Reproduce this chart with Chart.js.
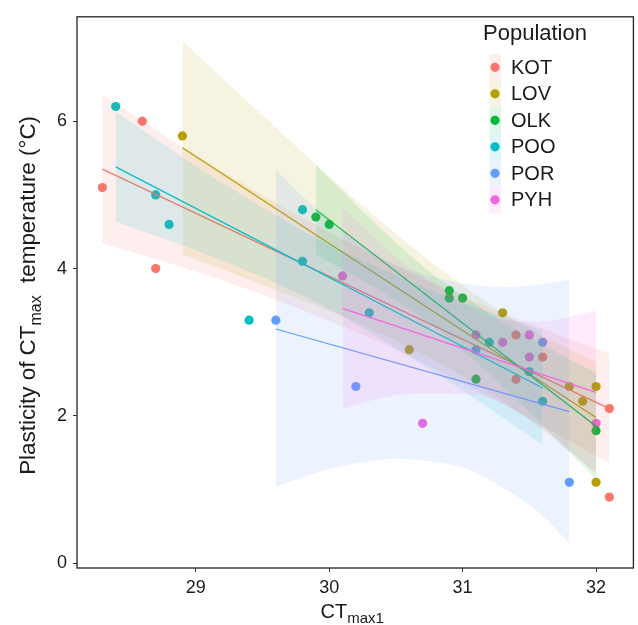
<!DOCTYPE html>
<html lang="en">
<head>
<meta charset="UTF-8">
<title>Plasticity of CTmax</title>
<script src="https://cdn.jsdelivr.net/npm/chart.js"></script>
<style>
  html, body { margin: 0; padding: 0; background: #fff; }
  canvas { display: block; }
</style>
</head>
<body>
<canvas id="chart" width="638" height="625"></canvas>

<script>
// populations and their ggplot colours
const populations = ['KOT', 'LOV', 'OLK', 'POO', 'POR', 'PYH'];
const popColors = ['#F8766D', '#B79F00', '#00BA38', '#00BFC4', '#619CFF', '#F564E3'];

const xTicks = [29, 30, 31, 32];
const yTicks = [0, 2, 4, 6];

// observed points (CTmax1, plasticity)
const kotX = [28.3, 28.6, 28.7, 31.4, 31.4, 31.6, 32.1, 32.1];
const kotY = [5.1, 6.0, 4.0, 3.1, 2.5, 2.8, 2.1, 0.9];
const lovX = [28.9, 30.6, 31.3, 31.8, 31.9, 32.0, 32.0];
const lovY = [5.8, 2.9, 3.4, 2.4, 2.2, 2.4, 1.1];
const olkX = [29.9, 30.0, 30.9, 30.9, 31.0, 31.1, 32.0];
const olkY = [4.7, 4.6, 3.7, 3.6, 3.6, 2.5, 1.8];
const pooX = [28.4, 28.7, 28.8, 29.4, 29.8, 29.8, 30.3, 31.2, 31.5, 31.6];
const pooY = [6.2, 5.0, 4.6, 3.3, 4.8, 4.1, 3.4, 3.0, 2.6, 2.2];
const porX = [29.6, 30.2, 31.1, 31.6, 31.8];
const porY = [3.3, 2.4, 2.9, 3.0, 1.1];
const pyhX = [30.1, 30.7, 31.1, 31.3, 31.5, 31.5, 32.0];
const pyhY = [3.9, 1.9, 3.1, 3.0, 3.1, 2.8, 1.9];

// fitted lines (ends only)
const kotFitX = [28.3, 32.1], kotFitY = [5.35, 2.10];
const lovFitX = [28.9, 32.0], lovFitY = [5.64, 1.98];
const olkFitX = [29.9, 32.0], olkFitY = [4.80, 1.86];
const pooFitX = [28.4, 31.6], pooFitY = [5.38, 2.38];
const porFitX = [29.6, 31.8], porFitY = [3.18, 2.06];
const pyhFitX = [30.1, 32.0], pyhFitY = [3.46, 2.32];

// confidence bands, upper and lower edge read at a few x
const kotBandX = [28.3, 29.0, 29.7, 30.5, 31.3, 32.1];
const kotHi = [6.36, 5.54, 4.79, 4.04, 3.40, 2.84];
const kotLo = [4.34, 3.96, 3.51, 2.90, 2.16, 1.36];
const lovBandX = [28.9, 29.5, 30.1, 30.7, 31.2, 31.6, 32.0];
const lovHi = [7.09, 6.08, 5.09, 4.18, 3.52, 3.09, 2.73];
const lovLo = [4.19, 3.78, 3.35, 2.84, 2.32, 1.81, 1.23];
const olkBandX = [29.9, 30.4, 30.83, 31.4, 32.0];
const olkHi = [5.41, 4.52, 3.85, 3.17, 2.58];
const olkLo = [4.19, 3.68, 3.15, 2.23, 1.14];
const pooBandX = [28.4, 29.2, 29.95, 30.8, 31.6];
const pooHi = [6.13, 5.16, 4.37, 3.68, 3.16];
const pooLo = [4.64, 4.11, 3.50, 2.58, 1.61];
const porBandX = [29.6, 30.0, 30.5, 31.0, 31.3, 31.56, 31.8];
const porHi = [5.34, 4.65, 4.05, 3.80, 3.75, 3.78, 3.85];
const porLo = [1.04, 1.28, 1.42, 1.30, 1.03, 0.71, 0.27];
const pyhBandX = [30.1, 30.5, 30.9, 31.2, 31.6, 32.0];
const pyhHi = [4.83, 4.16, 3.66, 3.35, 3.28, 3.43];
const pyhLo = [2.10, 2.28, 2.30, 2.25, 1.84, 1.21];

const series = [
  { x: kotX, y: kotY, fx: kotFitX, fy: kotFitY, bx: kotBandX, hi: kotHi, lo: kotLo },
  { x: lovX, y: lovY, fx: lovFitX, fy: lovFitY, bx: lovBandX, hi: lovHi, lo: lovLo },
  { x: olkX, y: olkY, fx: olkFitX, fy: olkFitY, bx: olkBandX, hi: olkHi, lo: olkLo },
  { x: pooX, y: pooY, fx: pooFitX, fy: pooFitY, bx: pooBandX, hi: pooHi, lo: pooLo },
  { x: porX, y: porY, fx: porFitX, fy: porFitY, bx: porBandX, hi: porHi, lo: porLo },
  { x: pyhX, y: pyhY, fx: pyhFitX, fy: pyhFitY, bx: pyhBandX, hi: pyhHi, lo: pyhLo }
];

const FONT = '"Liberation Sans", Arial, sans-serif';
const BAND_ALPHA = 0.12;

function rgba(hex, a) {
  const n = parseInt(hex.slice(1), 16);
  return `rgba(${n >> 16}, ${(n >> 8) & 255}, ${n & 255}, ${a})`;
}
function pairs(xs, ys) {
  return xs.map((x, i) => ({ x: x, y: ys[i] }));
}

const datasets = [];
series.forEach((s, i) => {
  const col = popColors[i];
  // band upper edge fills down to the next dataset (lower edge)
  datasets.push({
    label: populations[i] + ' upper', data: pairs(s.bx, s.hi),
    borderColor: 'rgba(0,0,0,0)', borderWidth: 0, pointRadius: 0,
    backgroundColor: rgba(col, BAND_ALPHA), fill: '+1', tension: 0.3,
    order: 20 - 2 * i
  });
  datasets.push({
    label: populations[i] + ' lower', data: pairs(s.bx, s.lo),
    borderColor: 'rgba(0,0,0,0)', borderWidth: 0, pointRadius: 0,
    fill: false, tension: 0.3, order: 20 - 2 * i
  });
  datasets.push({
    label: populations[i] + ' fit', data: pairs(s.fx, s.fy),
    borderColor: col, borderWidth: 1.2, pointRadius: 0, fill: false,
    order: 19 - 2 * i
  });
});
// points go underneath the smooths, as in the original
series.forEach((s, i) => {
  datasets.push({
    label: populations[i], data: pairs(s.x, s.y),
    showLine: false, pointRadius: 4.6, pointBorderWidth: 0,
    pointBackgroundColor: popColors[i], borderColor: popColors[i],
    order: 40
  });
});

// draw a run of text parts [text, size, dy] centred on cx
function drawParts(ctx, parts, cx, baseline) {
  let total = 0;
  parts.forEach(p => { ctx.font = p[1] + 'px ' + FONT; total += ctx.measureText(p[0]).width; });
  let x = cx - total / 2;
  parts.forEach(p => {
    ctx.font = p[1] + 'px ' + FONT;
    ctx.fillText(p[0], x, baseline + p[2]);
    x += ctx.measureText(p[0]).width;
  });
}

const decorations = {
  id: 'decorations',
  afterDraw(chart) {
    const { ctx, chartArea: a } = chart;
    ctx.save();
    ctx.strokeStyle = '#222';
    ctx.lineWidth = 1.3;
    ctx.strokeRect(a.left, a.top, a.right - a.left, a.bottom - a.top);

    ctx.fillStyle = '#1a1a1a';
    ctx.textAlign = 'left';
    ctx.textBaseline = 'alphabetic';
    // x title
    drawParts(ctx, [['CT', 20, 0], ['max1', 15, 5]], (a.left + a.right) / 2 - 3, 618);
    // y title
    ctx.save();
    ctx.translate(35, (a.top + a.bottom) / 2 + 3);
    ctx.rotate(-Math.PI / 2);
    drawParts(ctx, [['Plasticity of CT', 22.4, 0], ['max', 16, 6], ['  temperature (°C)', 22.4, 0]], 0, 0);
    ctx.restore();

    // legend
    ctx.font = '22px ' + FONT;
    ctx.fillText('Population', 483, 40);
    const step = 26.5, y0 = 67.3;
    populations.forEach((p, i) => {
      const cy = y0 + i * step;
      ctx.fillStyle = rgba(popColors[i], BAND_ALPHA);
      ctx.fillRect(489.5, cy - step / 2, 11.5, step);
      ctx.fillStyle = popColors[i];
      ctx.beginPath();
      ctx.arc(495, cy, 4.6, 0, Math.PI * 2);
      ctx.fill();
      ctx.fillStyle = '#1a1a1a';
      ctx.font = '20px ' + FONT;
      ctx.textBaseline = 'middle';
      ctx.fillText(p, 511, cy + 1);
      ctx.textBaseline = 'alphabetic';
    });
    ctx.restore();
  }
};

new Chart(document.getElementById('chart'), {
  type: 'line',
  data: { datasets: datasets },
  options: {
    responsive: false,
    devicePixelRatio: 1,
    animation: false,
    events: [],
    layout: { padding: { top: 7, right: 2, left: 0, bottom: 0 } },
    plugins: { legend: { display: false }, tooltip: { enabled: false } },
    scales: {
      x: {
        type: 'linear', min: 28.11, max: 32.28,
        afterFit(scale) { scale.height = 57; },
        afterBuildTicks(scale) { scale.ticks = xTicks.map(v => ({ value: v })); },
        grid: { drawOnChartArea: false, drawTicks: true, tickLength: 4, color: '#333' },
        border: { display: false },
        ticks: { color: '#1a1a1a', padding: 5, font: { family: FONT, size: 18 } }
      },
      y: {
        type: 'linear', min: -0.063, max: 7.417,
        afterFit(scale) { scale.width = 77; },
        afterBuildTicks(scale) { scale.ticks = yTicks.map(v => ({ value: v })); },
        grid: { drawOnChartArea: false, drawTicks: true, tickLength: 4, color: '#333' },
        border: { display: false },
        ticks: { color: '#1a1a1a', padding: 6, font: { family: FONT, size: 18 } }
      }
    }
  },
  plugins: [decorations]
});
</script>

</body>
</html>
